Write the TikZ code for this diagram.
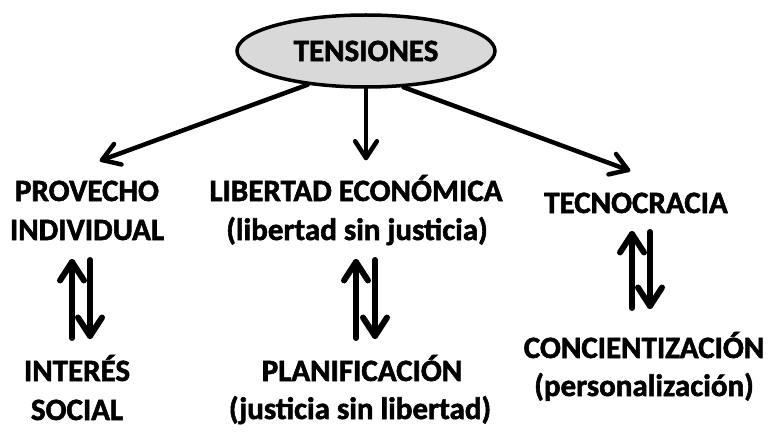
\documentclass[tikz,border=0pt]{standalone}
\usepackage{fontspec}
\setmainfont{Carlito}[BoldFeatures={FakeBold=1.8}]
\usetikzlibrary{shapes.geometric,calc}
\definecolor{ellfill}{RGB}{217,217,217}
\tikzset{
  lbl/.style={anchor=base,inner sep=0pt,font=\fontsize{31}{36}\selectfont\bfseries},
  toparrow/.style={line width=4.5pt,line cap=round,line join=round},
  udarrow/.style={line width=6pt,line cap=round,line join=round},
}
% chevron-headed arrow: #1 style, #2 start, #3 tip, #4 arm length
\newcommand{\chevarrow}[4]{%
  \draw[#1] (#2) -- (#3);
  \draw[#1] ($(#3)!#4!33:(#2)$) -- (#3) -- ($(#3)!#4!-33:(#2)$);}
\begin{document}
\begin{tikzpicture}[x=1pt,y=-1pt]
\useasboundingbox (0,0) rectangle (773,433);
\node[ellipse,draw,line width=3.5pt,fill=ellfill,minimum width=258pt,minimum height=72pt,inner sep=0pt,
  font=\fontsize{31}{36}\selectfont\bfseries] (tens) at (366,51) {TENSIONES};

\node[lbl] (prov1) at (87,201) {PROVECHO};
\node[lbl] (prov2) at (87,240) {INDIVIDUAL};
\node[lbl] (lib1) at (356,201) {LIBERTAD ECONÓMICA};
\node[lbl] (lib2) at (357,240) {(libertad sin justicia)};
\node[lbl] (tec) at (636,213) {TECNOCRACIA};
\node[lbl] (int1) at (77,381) {INTERÉS};
\node[lbl] (int2) at (77,420) {SOCIAL};
\node[lbl] (plan1) at (362,381) {PLANIFICACIÓN};
\node[lbl] (plan2) at (360,419) {(justicia sin libertad)};
\node[lbl] (conc1) at (644,358) {CONCIENTIZACIÓN};
\node[lbl] (conc2) at (644,396) {(personalización)};

% top arrows
\coordinate (sL) at (tens.210);
\coordinate (sM) at (tens.south);
\coordinate (sR) at (tens.316);
\coordinate (tL) at (102,160);
\coordinate (tM) at (366,158);
\coordinate (tR) at (628,170);
\chevarrow{toparrow}{sL}{tL}{20pt}
\chevarrow{toparrow}{sM}{tM}{20pt}
\chevarrow{toparrow}{sR}{tR}{20pt}

% up/down pairs
\coordinate (aU1) at (72,338); \coordinate (aU2) at (72,262);
\coordinate (aD1) at (90,260); \coordinate (aD2) at (90,336);
\coordinate (bU1) at (356,338); \coordinate (bU2) at (356,262);
\coordinate (bD1) at (375,260); \coordinate (bD2) at (375,336);
\coordinate (cU1) at (632,308); \coordinate (cU2) at (632,234);
\coordinate (cD1) at (650,232); \coordinate (cD2) at (650,306);
\chevarrow{udarrow}{aU1}{aU2}{22pt}
\chevarrow{udarrow}{aD1}{aD2}{22pt}
\chevarrow{udarrow}{bU1}{bU2}{22pt}
\chevarrow{udarrow}{bD1}{bD2}{22pt}
\chevarrow{udarrow}{cU1}{cU2}{22pt}
\chevarrow{udarrow}{cD1}{cD2}{22pt}
\end{tikzpicture}
\end{document}
